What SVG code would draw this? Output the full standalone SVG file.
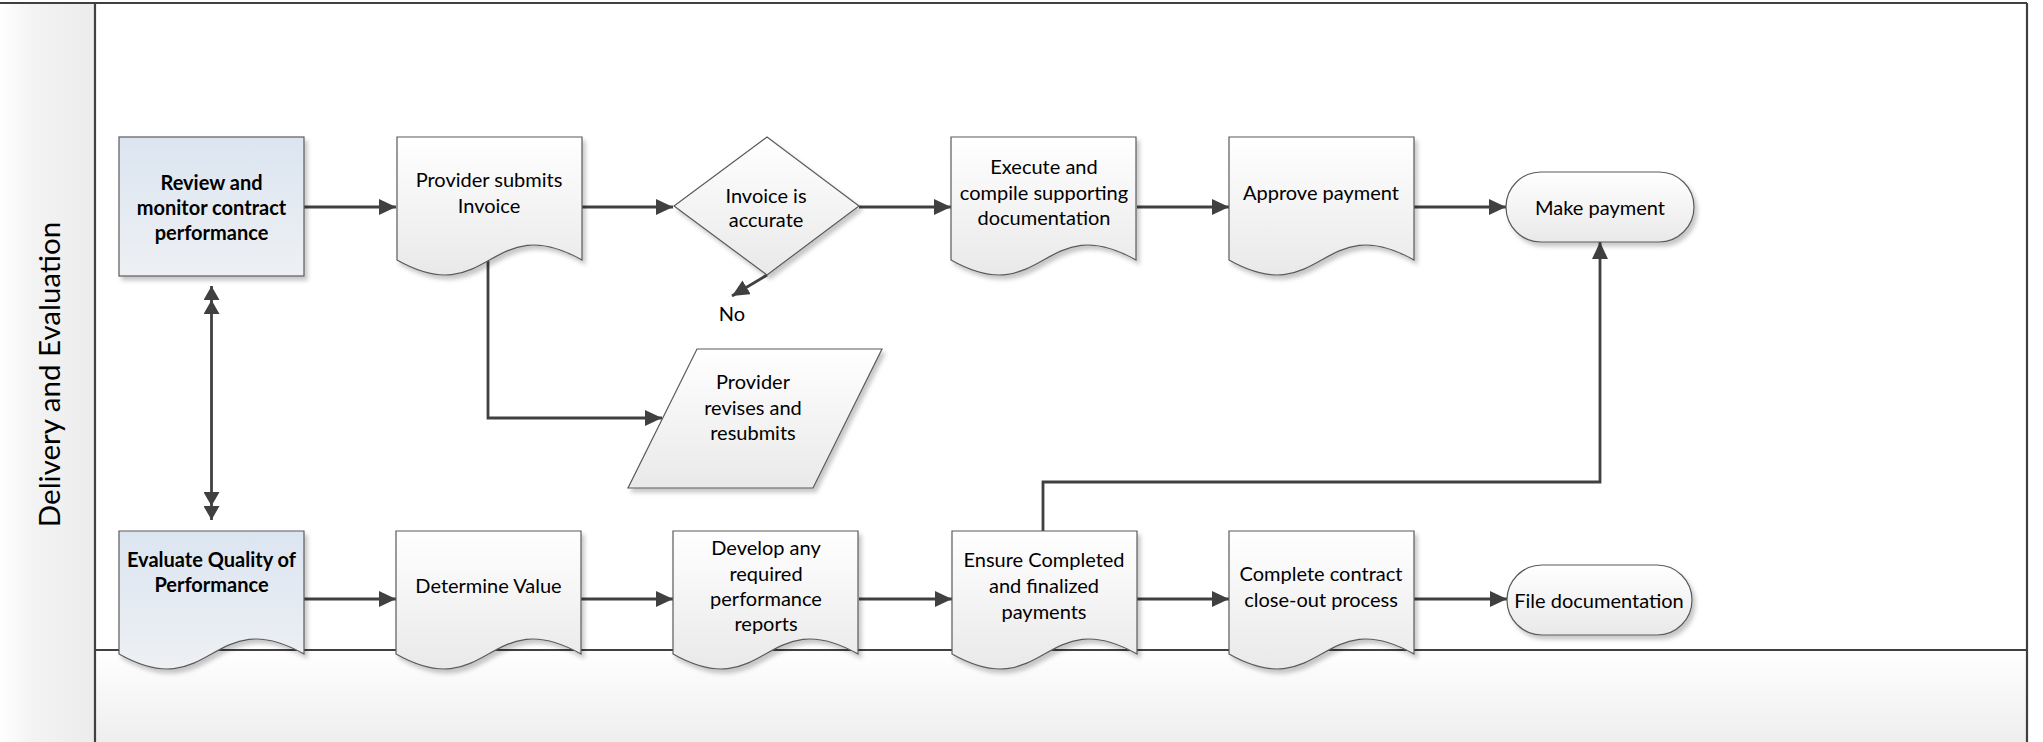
<svg xmlns="http://www.w3.org/2000/svg" xmlns:xlink="http://www.w3.org/1999/xlink" width="2043" height="742" viewBox="0 0 2043 742">
<style>
  .lane { stroke: #404040; stroke-width: 2.2; fill: none; }
  .shape { stroke: #5a5a5a; stroke-width: 1.2; fill: url(#gGray); filter: url(#shadow); }
  .blue { fill: url(#gBlue); }
  .conn { stroke: #404040; stroke-width: 2.8; fill: none; }
  .arrow { marker-end: url(#arr); }
  text { font-family: Lato, "Liberation Sans", sans-serif; font-size: 20px; fill: #000; text-anchor: middle; dominant-baseline: central; }
  .b { font-weight: bold; }
  .lanelabel { font-size: 29.5px; }
</style>
<defs>
  <linearGradient id="gGray" x1="0" y1="0" x2="0" y2="1">
    <stop offset="0" stop-color="#ffffff"/>
    <stop offset="1" stop-color="#e9e9e9"/>
  </linearGradient>
  <linearGradient id="gBlue" x1="0" y1="0" x2="0" y2="1">
    <stop offset="0" stop-color="#dbe5f1"/>
    <stop offset="1" stop-color="#eef0f3"/>
  </linearGradient>
  <linearGradient id="gBand" x1="0" y1="0" x2="1" y2="0">
    <stop offset="0" stop-color="#ffffff"/>
    <stop offset="0.35" stop-color="#f3f3f3"/>
    <stop offset="1" stop-color="#ececec"/>
  </linearGradient>
  <linearGradient id="gBottom" x1="0" y1="0" x2="0" y2="1">
    <stop offset="0" stop-color="#ffffff"/>
    <stop offset="1" stop-color="#eeeeee"/>
  </linearGradient>
  <filter id="shadow" x="-10%" y="-10%" width="125%" height="130%">
    <feDropShadow dx="3" dy="4" stdDeviation="2" flood-color="#000" flood-opacity="0.22"/>
  </filter>
  <marker id="arr" markerUnits="userSpaceOnUse" markerWidth="18" markerHeight="16" refX="17" refY="8" orient="auto">
    <path d="M0,0 L17,8 L0,16 Z" fill="#404040"/>
  </marker>
  <marker id="dbl" markerUnits="userSpaceOnUse" markerWidth="30" markerHeight="16" refX="28" refY="8" orient="auto-start-reverse">
    <path d="M14,0 L28,8 L14,16 Z M0,0 L14,8 L0,16 Z" fill="#404040"/>
  </marker>
  <path id="doc" d="M0,0 H185 V123 C92.5,71 92.5,175 0,123 Z"/>
</defs>

<!-- swimlane background -->
<g id="lane">
  <rect x="0" y="3" width="95" height="739" fill="url(#gBand)"/>
  <rect x="95" y="650" width="1932" height="92" fill="url(#gBottom)"/>
  <line class="lane" x1="0" y1="3" x2="2027" y2="3"/>
  <line class="lane" x1="95" y1="3" x2="95" y2="742"/>
  <line class="lane" x1="2027" y1="3" x2="2027" y2="742"/>
  <line class="lane" x1="95" y1="650" x2="2027" y2="650"/>
  <text class="lanelabel" transform="translate(48,374.5) rotate(-90)">Delivery and Evaluation</text>
</g>

<g id="connectors">
  <path class="conn arrow" d="M304,207 H396"/>
  <path class="conn arrow" d="M582,207 H673"/>
  <path class="conn arrow" d="M859,207 H951"/>
  <path class="conn arrow" d="M1137,207 H1229"/>
  <path class="conn arrow" d="M1413,207 H1506"/>
  <path class="conn arrow" d="M767,275 L732,296"/>
  <path class="conn arrow" d="M488,261 V418 H662"/>
  <path class="conn" d="M211.5,286 V520" marker-start="url(#dbl)" marker-end="url(#dbl)"/>
  <path class="conn arrow" d="M304,599 H396"/>
  <path class="conn arrow" d="M581,599 H673"/>
  <path class="conn arrow" d="M859,599 H952"/>
  <path class="conn arrow" d="M1136,599 H1229"/>
  <path class="conn arrow" d="M1413,599 H1507"/>
  <path class="conn arrow" d="M1043,531 V482 H1600 V242"/>
  <text x="732" y="313">No</text>
</g>

<g id="review">
  <rect class="shape blue" x="119" y="137" width="185" height="139"/>
  <text class="b" x="211.5" y="182">Review and</text>
  <text class="b" x="211.5" y="207">monitor contract</text>
  <text class="b" x="211.5" y="232">performance</text>
</g>

<g id="provider-submits">
  <use href="#doc" class="shape" x="397" y="137"/>
  <text x="489" y="179">Provider submits</text>
  <text x="489" y="205">Invoice</text>
</g>

<g id="invoice-accurate">
  <polygon class="shape" points="674,206 767,137 859,206 767,275"/>
  <text x="766" y="195">Invoice is</text>
  <text x="766" y="219">accurate</text>
</g>

<g id="execute">
  <use href="#doc" class="shape" x="951" y="137"/>
  <text x="1044" y="166">Execute and</text>
  <text x="1044" y="192">compile supporting</text>
  <text x="1044" y="217">documentation</text>
</g>

<g id="approve">
  <use href="#doc" class="shape" x="1229" y="137"/>
  <text x="1321" y="192">Approve payment</text>
</g>

<g id="make-payment">
  <rect class="shape" x="1506" y="172" width="188" height="70" rx="35" ry="35"/>
  <text x="1600" y="207">Make payment</text>
</g>

<g id="provider-revises">
  <polygon class="shape" points="697,349 882,349 813,488 628,488"/>
  <text x="753" y="381">Provider</text>
  <text x="753" y="407">revises and</text>
  <text x="753" y="432">resubmits</text>
</g>

<g id="evaluate">
  <use href="#doc" class="shape blue" x="119" y="531"/>
  <text class="b" x="211.5" y="559">Evaluate Quality of</text>
  <text class="b" x="211.5" y="584">Performance</text>
</g>

<g id="determine">
  <use href="#doc" class="shape" x="396" y="531"/>
  <text x="488.5" y="585">Determine Value</text>
</g>

<g id="develop">
  <use href="#doc" class="shape" x="673" y="531"/>
  <text x="766" y="547">Develop any</text>
  <text x="766" y="573">required</text>
  <text x="766" y="598">performance</text>
  <text x="766" y="623">reports</text>
</g>

<g id="ensure">
  <use href="#doc" class="shape" x="952" y="531"/>
  <text x="1044" y="559">Ensure Completed</text>
  <text x="1044" y="585">and finalized</text>
  <text x="1044" y="611">payments</text>
</g>

<g id="complete">
  <use href="#doc" class="shape" x="1229" y="531"/>
  <text x="1321" y="573">Complete contract</text>
  <text x="1321" y="599">close-out process</text>
</g>

<g id="file-doc">
  <rect class="shape" x="1507" y="565" width="185" height="70" rx="35" ry="35"/>
  <text x="1599" y="600">File documentation</text>
</g>
</svg>
